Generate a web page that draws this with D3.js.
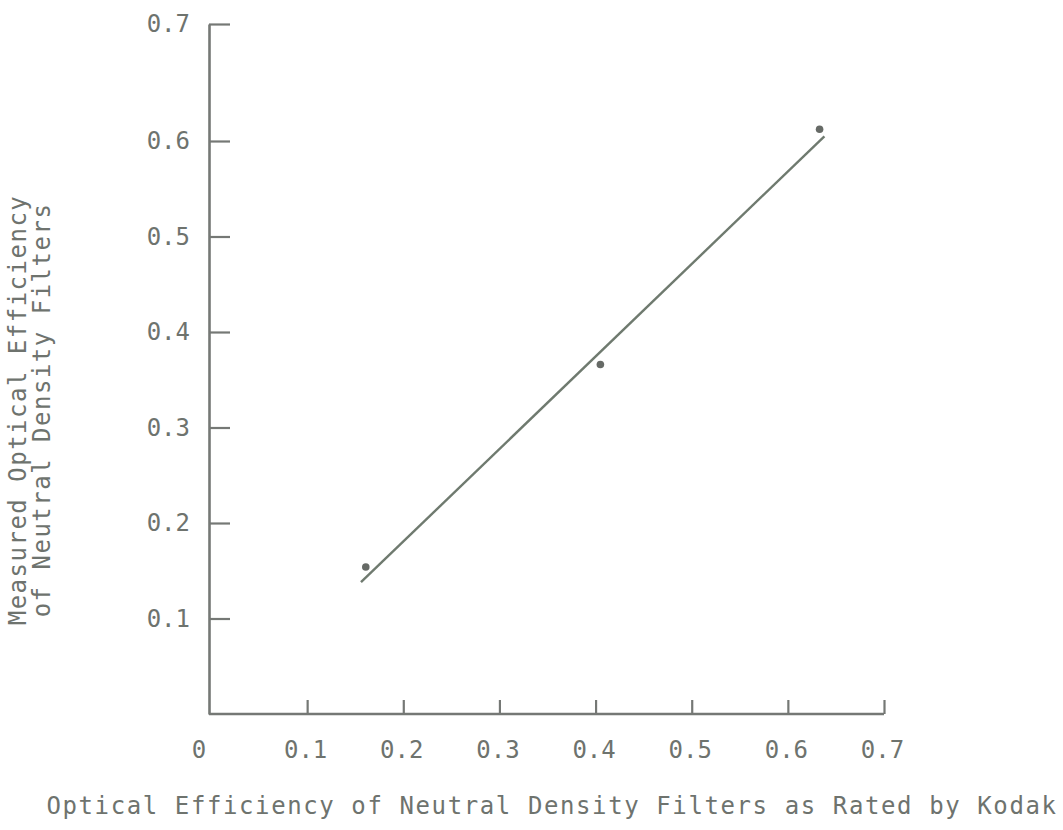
<!DOCTYPE html>
<html>
<head>
<meta charset="utf-8">
<script src="https://cdn.jsdelivr.net/npm/d3@7"></script>
<style>
  html, body { margin: 0; padding: 0; background: #fff; }
  svg text { font-family: "DejaVu Sans Mono", "Liberation Mono", monospace; fill: #6e736e; }
</style>
</head>
<body>
<svg id="chart" width="1063" height="830"></svg>
<script>
// Data
const xTicks = [0.1, 0.2, 0.3, 0.4, 0.5, 0.6, 0.7];
const yTicks = [0.1, 0.2, 0.3, 0.4, 0.5, 0.6, 0.7];
const ratedByKodak = [0.161, 0.405, 0.633];
const measured = [0.154, 0.366, 0.61];
const fitX = [0.156, 0.638];
const fitY = [0.138, 0.604];
const xTitle = "Optical Efficiency of Neutral Density Filters as Rated by Kodak";
const yTitleLines = ["Measured Optical Efficiency", "of Neutral Density Filters"];

const ink = "#757875";
const textInk = "#6e736e";
const svg = d3.select("#chart");

const x = d3.scaleLinear().domain([0, 0.7]).range([211, 884]);
// top of the drawn axis is stretched in the original, as hand-drawn
const y = d3.scaleLinear().domain([0, 0.6, 0.7]).range([714, 141, 24]);

// Y axis (ticks point inward)
const yAxis = svg.append("g")
  .attr("transform", "translate(209,0)")
  .call(d3.axisLeft(y).tickValues(yTicks).tickFormat(d3.format(".1f"))
    .tickSizeInner(-21).tickSizeOuter(0).tickPadding(19));
yAxis.select(".domain").attr("stroke", ink).attr("stroke-width", 2.6);
yAxis.selectAll(".tick line").attr("stroke", ink).attr("stroke-width", 2.2);
yAxis.selectAll(".tick text").attr("font-size", 24)
  .attr("fill", textInk).attr("font-family", "DejaVu Sans Mono");

// X axis (ticks point inward)
const xAxis = svg.append("g")
  .attr("transform", "translate(0,714)")
  .call(d3.axisBottom(x).tickValues(xTicks).tickFormat(d3.format(".1f"))
    .tickSizeInner(-14).tickSizeOuter(0).tickPadding(27));
xAxis.select(".domain").attr("stroke", ink).attr("stroke-width", 2.6)
  .attr("d", "M" + (x(0) - 2) + ",0H" + x(0.7));
xAxis.selectAll(".tick line").attr("stroke", ink).attr("stroke-width", 2.2);
xAxis.selectAll(".tick text").attr("font-size", 24)
  .attr("dx", -2)
  .attr("fill", textInk).attr("font-family", "DejaVu Sans Mono");

// origin label "0"
xAxis.append("text")
  .attr("x", x(0) - 12).attr("y", 27).attr("dy", "0.71em")
  .attr("text-anchor", "middle").attr("font-size", 24)
  .attr("font-family", "DejaVu Sans Mono").attr("fill", textInk)
  .text("0");

// Fitted line
svg.append("line")
  .attr("x1", x(fitX[0])).attr("y1", y(fitY[0]))
  .attr("x2", x(fitX[1])).attr("y2", y(fitY[1]))
  .attr("stroke", "#6f7a6f").attr("stroke-width", 2.4);

// Data points
svg.selectAll("circle.pt")
  .data(ratedByKodak.map((v, i) => [v, measured[i]]))
  .enter().append("circle")
  .attr("class", "pt")
  .attr("cx", d => x(d[0])).attr("cy", d => y(d[1]))
  .attr("r", 3.8).attr("fill", "#666a66");

// Axis titles
svg.append("text")
  .attr("x", 552).attr("y", 814)
  .attr("text-anchor", "middle")
  .attr("font-size", 24).attr("letter-spacing", 1.6)
  .text(xTitle);

const yt = svg.append("text")
  .attr("transform", "translate(0,410) rotate(-90)")
  .attr("text-anchor", "middle")
  .attr("font-size", 24).attr("letter-spacing", 1.5);
yt.append("tspan").attr("x", 0).attr("y", 26).text(yTitleLines[0]);
yt.append("tspan").attr("x", 0).attr("y", 50).text(yTitleLines[1]);
</script>
</body>
</html>
